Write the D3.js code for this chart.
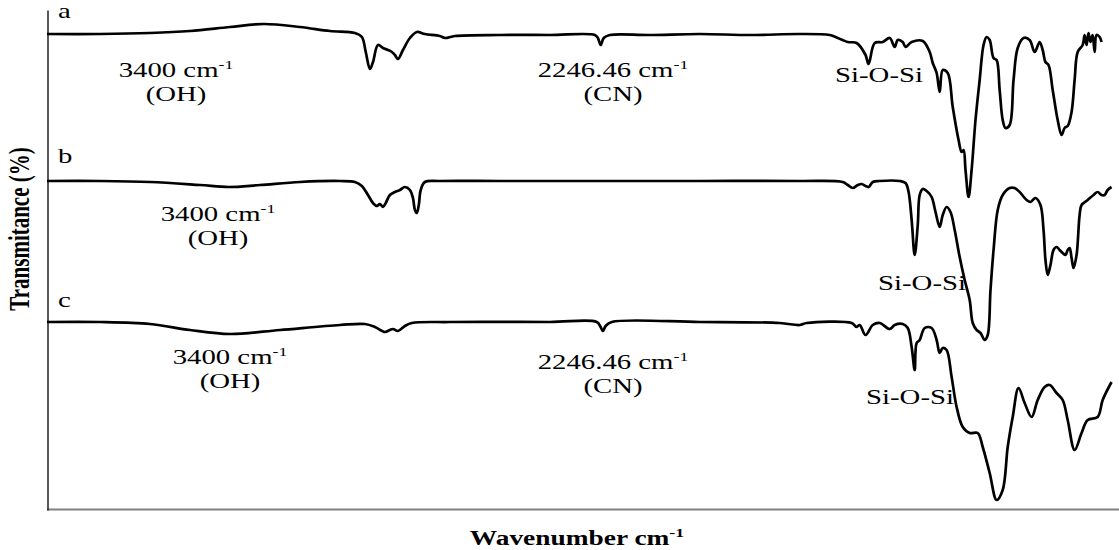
<!DOCTYPE html>
<html>
<head>
<meta charset="utf-8">
<script src="https://cdn.jsdelivr.net/npm/d3@7"></script>
<style>
  body { margin: 0; background: #fff; }
  svg { display: block; }
  text { font-family: "Liberation Serif", "Times New Roman", serif; fill: #000; }
</style>
</head>
<body>
<div id="chart"></div>
<script>
// FTIR spectra a, b, c : wavenumber (cm-1) / transmittance (stacked, arbitrary %)
var seriesNames = ["a", "b", "c"];

var wnA = [4250,4059,3879,3735,3591,3469,3339,3231,3141,3116,3102,3087,3076,3058,3040,3022,3008,2997,2986,2968,2943,2918,2889,2835,2817,2781,2619,2439,2277,2266,2256,2245,2223,2079,1899,1719,1539,1431,1410,1366,1334,1302,1291,1269,1240,1215,1197,1186,1168,1158,1136,1096,1071,1060,1046,1035,1024,1006,988,967,956,949,942,931,920,906,891,877,866,855,841,830,819,808,798,783,769,754,733,711,693,675,664,654,643,628,610,596,585,574,560,549,538,520,513,506,499,492,484,477,470,459,452];
var tA = [95.2,95.2,95.4,95.8,96.6,97.2,96.6,95.8,95.4,94.6,91.6,88.2,89.6,93,92.4,92,91.6,91,90.2,92,94.4,95.6,95.2,94.8,94.4,94.8,95,95,95,94.4,93,94.4,95,95,95.2,95,95.2,95,94.6,93.6,93.4,91,89.2,93.4,93.6,94.4,92.6,94,93.6,92.6,93.6,93.8,91.6,89.4,87.4,83.6,88,87.4,80.6,74,71.6,72,68,62.6,68,78,86,93,94.6,94,90.4,90,84,78,76.4,77,86,92.4,94.4,94,91.6,93.6,92,89.6,89,84,78,75,76.4,76.8,79.6,86,91.6,93,95,93,95.4,93.6,95,91.6,95,94.6,93.6];

var wnB = [4250,4059,3879,3699,3595,3483,3339,3195,3141,3116,3094,3076,3062,3051,3040,3030,3015,2997,2979,2961,2943,2932,2925,2918,2911,2904,2889,2835,2619,2259,1899,1539,1384,1366,1348,1330,1316,1302,1291,1276,1251,1179,1158,1147,1136,1125,1114,1107,1096,1082,1064,1050,1035,1024,1010,996,981,963,945,927,916,902,888,873,862,852,841,826,808,783,765,747,722,708,690,672,661,654,646,636,625,614,603,592,582,574,567,560,553,542,531,524,502,481,466,452,441,430,416];
var tB = [65.8,65.8,65.6,65,64.6,65,65.6,65.8,65.6,64.8,63,61.4,60.8,61.2,60.6,61.4,63,63.6,64,64.6,64,62.4,60,59.4,61,64,65.6,65.8,65.8,65.8,65.8,65.8,65.6,65,64.4,65,65.2,64.8,64.6,65.6,65.8,65.8,65.4,63.6,58,51,57,63,64.2,63.8,62.6,59.6,56.6,59,60.6,59.6,56,50.6,46,42,37.4,36,35.4,34,35,44,52,60,63,64.4,64.4,63.6,62,61.6,62.4,61,56,50,47,49,52,52.6,52,51.4,51,52,52.4,50.4,48.4,51,59,61,62,63,63.6,63,63,64,64.6];

var wnC = [4250,4059,3879,3735,3591,3411,3195,3105,3069,3033,3015,3004,2986,2961,2936,2799,2439,2270,2256,2248,2238,2216,1899,1611,1539,1514,1352,1334,1323,1302,1276,1251,1215,1197,1168,1150,1136,1125,1118,1107,1089,1064,1046,1035,1024,1010,992,974,952,927,898,880,855,830,808,790,772,751,729,704,682,657,639,614,592,574,549,524,502,466,448,416];
var tC = [37.6,37.6,37.2,36,35.2,36,37,37.2,36.6,35.6,36,36.2,35.8,36.8,37.4,37.6,37.6,37.6,36.6,35.8,36.8,37.6,37.6,37.4,37,37.4,37.4,36.6,37,35,37,37.4,36.2,37,37.2,36.4,32.6,28,33.4,34,36.4,36.4,34,31.4,32.4,32,26.6,20.6,16.6,15.4,15.4,12.6,7.4,2,4,12.6,18.6,24.4,21.4,18.6,22,24.6,25,23.4,22,18,12,15.4,18,18.6,22,25.6];

var xTitle = "Wavenumber cm";
var yTitle = "Transmitance (%)";

// peak annotations (two lines, first line gets a "-1" superscript when sup is set)
var notes = [
  { l1: "3400 cm", sup: "-1", l2: "(OH)", cx: 176, by: 77 },
  { l1: "2246.46 cm", sup: "-1", l2: "(CN)", cx: 613, by: 77 },
  { l1: "Si-O-Si", sup: "", l2: "", cx: 879, by: 82 },
  { l1: "3400 cm", sup: "-1", l2: "(OH)", cx: 218, by: 221 },
  { l1: "Si-O-Si", sup: "", l2: "", cx: 922, by: 290 },
  { l1: "3400 cm", sup: "-1", l2: "(OH)", cx: 230, by: 364 },
  { l1: "2246.46 cm", sup: "-1", l2: "(CN)", cx: 613, by: 369 },
  { l1: "Si-O-Si", sup: "", l2: "", cx: 910, by: 404 }
];
var nameY = [18, 163, 307];

var width = 1119, height = 550;
var mLeft = 47, mRight = 1116, mTop = 10, mBottom = 510;
var sx = 1.37; // the original picture is stretched horizontally

var x = d3.scaleLinear().domain([4250, 400]).range([mLeft, mRight]);
var y = d3.scaleLinear().domain([0, 100]).range([mBottom, mTop]);

var svg = d3.select("#chart").append("svg")
    .attr("width", width)
    .attr("height", height);

// axes, no ticks
svg.append("g")
    .attr("transform", "translate(0," + (mBottom - 0.5) + ")")
    .call(d3.axisBottom(x).ticks(0).tickSizeOuter(0))
    .select(".domain")
    .attr("stroke", "#808080")
    .attr("stroke-width", 2)
    .attr("d", "M" + mLeft + ",0H" + width);

svg.append("g")
    .attr("transform", "translate(" + (mLeft + 0.5) + ",0)")
    .call(d3.axisLeft(y).ticks(0).tickSizeOuter(0))
    .select(".domain")
    .attr("stroke", "#222")
    .attr("stroke-width", 1.5);

function stretched(g, cx, by) {
  return g.append("text")
      .attr("transform", "translate(" + cx + "," + by + ") scale(" + sx + ",1)")
      .attr("text-anchor", "middle")
      .style("font-size", "21px");
}

// annotations go under the traces
notes.forEach(function(n) {
  var t = stretched(svg, n.cx, n.by);
  t.append("tspan").text(n.l1);
  if (n.sup) {
    t.append("tspan").attr("dy", -8).style("font-size", "13px").text(n.sup);
  }
  if (n.l2) {
    stretched(svg, n.cx, n.by + 24).text(n.l2);
  }
});

seriesNames.forEach(function(s, i) {
  svg.append("text")
      .attr("transform", "translate(" + 58 + "," + nameY[i] + ") scale(" + sx + ",1)")
      .style("font-size", "21px")
      .text(s);
});

var line = d3.line()
    .x(function(d) { return x(d[0]); })
    .y(function(d) { return y(d[1]); })
    .curve(d3.curveCatmullRom.alpha(0.5));

var spectra = [d3.zip(wnA, tA), d3.zip(wnB, tB), d3.zip(wnC, tC)];

svg.selectAll(".spec")
    .data(spectra)
    .enter().append("path")
    .attr("class", "spec")
    .attr("fill", "none")
    .attr("stroke", "#000")
    .attr("stroke-width", 2.7)
    .attr("stroke-linejoin", "round")
    .attr("d", line);

// axis titles
var xt = svg.append("text")
    .attr("transform", "translate(577,545) scale(" + sx + ",1)")
    .attr("text-anchor", "middle")
    .style("font-size", "20px")
    .style("font-weight", "bold");
xt.append("tspan").text(xTitle);
xt.append("tspan").attr("dy", -8).style("font-size", "13px").text("-1");

svg.append("text")
    .attr("transform", "translate(29,229) scale(" + sx + ",1) rotate(-90)")
    .attr("text-anchor", "middle")
    .style("font-size", "21px")
    .style("font-weight", "bold")
    .text(yTitle);
</script>
</body>
</html>
